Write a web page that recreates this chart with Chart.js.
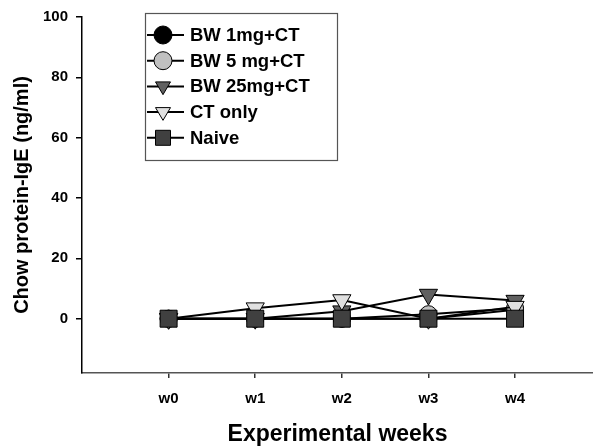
<!DOCTYPE html>
<html>
<head>
<meta charset="utf-8">
<script src="https://cdn.jsdelivr.net/npm/chart.js@4/dist/chart.umd.min.js"></script>
<style>
  html, body { margin: 0; padding: 0; background: #fff; }
  #wrap { width: 593px; height: 448px; }
</style>
</head>
<body>
<div id="wrap"><canvas id="igeChart" width="593" height="448"></canvas></div>
<script>
var weeks = [0, 1, 2, 3, 4];
var weekLabels = ['w0', 'w1', 'w2', 'w3', 'w4'];
var yTicks = [0, 20, 40, 60, 80, 100];

var bw1 = [0, 0, 0, 0, 3];
var bw5 = [0, 0, 0, 1.5, 3.5];
var bw25 = [0, 0, 2.5, 8, 6];
var ctOnly = [0, 3.5, 6.2, 0, 4];
var naive = [0, 0, 0, 0, 0];
var ctErr = [0, 0.5, 2.6, 0.5, 1];

var seriesNames = ['BW 1mg+CT', 'BW 5 mg+CT', 'BW 25mg+CT', 'CT only', 'Naive'];

function pts(vals) {
  return weeks.map(function (w, i) { return { x: w, y: vals[i] }; });
}

function makeSet(label, vals, color, style, rot, order) {
  var r = 8.5;
  if (style == 'rect') r = 12;
  if (style == 'triangle') r = 10.5;
  return {
    label: label,
    data: pts(vals),
    borderColor: '#000',
    borderWidth: 2,
    pointBackgroundColor: color,
    pointBorderColor: '#000',
    pointBorderWidth: 1,
    pointStyle: style,
    pointRotation: rot,
    pointRadius: r,
    tension: 0,
    order: order
  };
}

// draw marker by hand for the legend
function marker(ctx, style, x, y, r, fill) {
  ctx.save();
  ctx.fillStyle = fill;
  ctx.strokeStyle = '#000';
  ctx.lineWidth = 1;
  ctx.beginPath();
  if (style == 'circle') {
    ctx.arc(x, y, r, 0, Math.PI * 2);
  } else if (style == 'rect') {
    ctx.rect(x - r, y - r, r * 2, r * 2);
  } else {
    ctx.moveTo(x - r, y - r * 0.6);
    ctx.lineTo(x + r, y - r * 0.6);
    ctx.lineTo(x, y + r * 1.1);
    ctx.closePath();
  }
  ctx.fill();
  ctx.stroke();
  ctx.restore();
}

var errorBars = {
  id: 'errorBars',
  afterDatasetsDraw: function (chart) {
    var ctx = chart.ctx, xs = chart.scales.x, ys = chart.scales.y;
    ctx.save();
    ctx.strokeStyle = '#000';
    ctx.lineWidth = 1.5;
    weeks.forEach(function (w, i) {
      if (!ctErr[i]) return;
      var px = xs.getPixelForValue(w);
      var top = ys.getPixelForValue(ctOnly[i] + ctErr[i]);
      var mid = ys.getPixelForValue(ctOnly[i]);
      if (mid - top < 8) return;
      ctx.beginPath();
      ctx.moveTo(px, mid - 8);
      ctx.lineTo(px, top);
      ctx.moveTo(px - 5, top);
      ctx.lineTo(px + 5, top);
      ctx.stroke();
    });
    ctx.restore();
  }
};

var boxLegend = {
  id: 'boxLegend',
  afterDraw: function (chart) {
    var ctx = chart.ctx;
    var styles = ['circle', 'circle', 'triangle', 'triangle', 'rect'];
    var fills = ['#000000', '#c0c0c0', '#606060', '#e0e0e0', '#404040'];
    ctx.save();
    ctx.fillStyle = '#fff';
    ctx.fillRect(145, 13, 192, 147);
    ctx.strokeStyle = '#555';
    ctx.lineWidth = 1.2;
    ctx.strokeRect(145.5, 13.5, 192, 147);
    ctx.font = 'bold 18.5px "Liberation Sans", Arial, sans-serif';
    ctx.textBaseline = 'middle';
    for (var i = 0; i < seriesNames.length; i++) {
      var y = 35 + i * 25.7;
      ctx.strokeStyle = '#000';
      ctx.lineWidth = 2;
      ctx.beginPath();
      ctx.moveTo(147, y);
      ctx.lineTo(184, y);
      ctx.stroke();
      marker(ctx, styles[i], 163, y, styles[i] == 'circle' ? 9 : 7.5, fills[i]);
      ctx.fillStyle = '#000';
      ctx.fillText(seriesNames[i], 190, y + 1);
    }
    ctx.restore();
  }
};

var tickFont = { family: '"Liberation Sans", Arial, sans-serif', size: 15, weight: 'bold' };

new Chart('igeChart', {
  type: 'line',
  data: {
    datasets: [
      makeSet(seriesNames[0], bw1, '#000000', 'circle', 0, 4),
      makeSet(seriesNames[1], bw5, '#c0c0c0', 'circle', 0, 3),
      makeSet(seriesNames[2], bw25, '#606060', 'triangle', 180, 2),
      makeSet(seriesNames[3], ctOnly, '#e0e0e0', 'triangle', 180, 1),
      makeSet(seriesNames[4], naive, '#404040', 'rect', 0, 0)
    ]
  },
  options: {
    responsive: false,
    animation: false,
    layout: { autoPadding: false, padding: { top: 15, right: 0, left: 0, bottom: 0 } },
    plugins: { legend: { display: false }, tooltip: { enabled: false } },
    scales: {
      x: {
        type: 'linear',
        min: -1,
        max: 4.9,
        afterBuildTicks: function (axis) { axis.ticks = weeks.map(function (v) { return { value: v }; }); },
        afterFit: function (axis) { axis.height = 75; axis.paddingRight = 0; axis.paddingLeft = 0; },
        grid: { drawOnChartArea: false, drawTicks: true, tickLength: 5, color: '#333', lineWidth: 1.5 },
        border: { display: true, color: '#555', width: 1.5 },
        ticks: {
          color: '#000', font: tickFont, padding: 12, maxRotation: 0,
          callback: function (v) { return weekLabels[weeks.indexOf(v)]; }
        },
        title: {
          display: true, text: 'Experimental weeks', color: '#000',
          font: { family: '"Liberation Sans", Arial, sans-serif', size: 23, weight: 'bold' },
          padding: { top: 4, bottom: 0 }
        }
      },
      y: {
        min: -18,
        max: 100,
        afterBuildTicks: function (axis) { axis.ticks = yTicks.map(function (v) { return { value: v }; }); },
        afterFit: function (axis) { axis.width = 82; },
        grid: { drawOnChartArea: false, drawTicks: true, tickLength: 6, color: '#000', lineWidth: 1.5 },
        border: { display: true, color: '#000', width: 1.5 },
        ticks: { color: '#000', font: tickFont, padding: 8 },
        title: {
          display: true, text: 'Chow protein-IgE (ng/ml)', color: '#000',
          font: { family: '"Liberation Sans", Arial, sans-serif', size: 20, weight: 'bold' },
          padding: { top: 10, bottom: 4 }
        }
      }
    }
  },
  plugins: [errorBars, boxLegend]
});
</script>
</body>
</html>
